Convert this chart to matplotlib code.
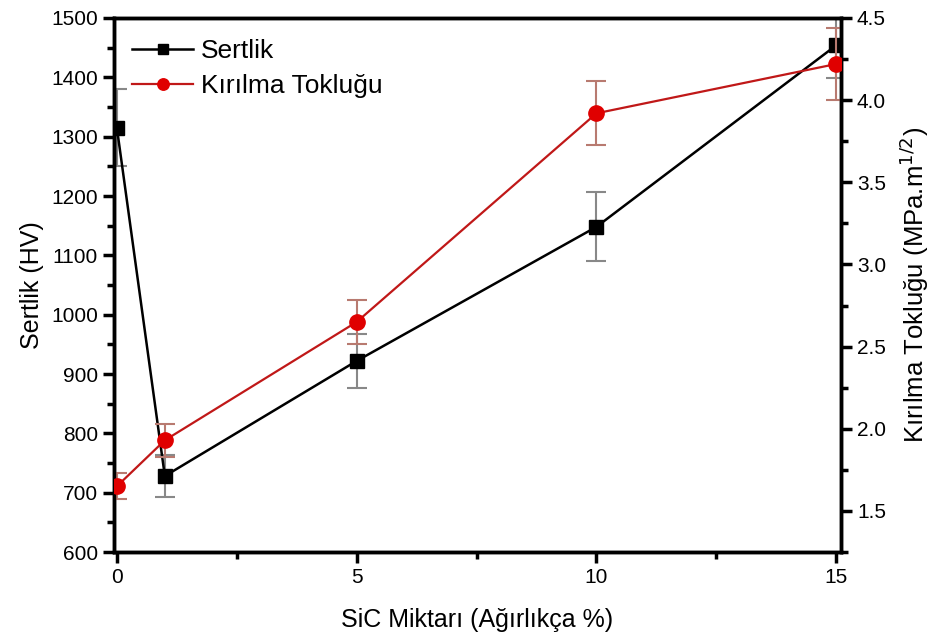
import matplotlib
matplotlib.use("Agg")
import matplotlib.pyplot as plt
from matplotlib.ticker import MultipleLocator

plt.rcParams['font.family'] = ['Liberation Sans', 'DejaVu Sans']

sic = [0, 1, 5, 10, 15]
sertlik = [1315, 728, 922, 1148, 1454]
sertlik_err = [65, 35, 46, 58, 55]
tokluk = [1.65, 1.93, 2.65, 3.92, 4.22]
tokluk_err = [0.08, 0.10, 0.135, 0.195, 0.22]

fig = plt.figure(figsize=(9.3, 6.4), dpi=100)
ax = fig.add_axes([114/930, 88/640, 727/930, 534/640])
ax2 = ax.twinx()

red = '#e00000'
ax.errorbar(sic, sertlik, yerr=sertlik_err, fmt='none', ecolor='#888888',
            elinewidth=1.5, capsize=7, capthick=1.5, zorder=2)
l1, = ax.plot(sic, sertlik, color='black', lw=1.8, marker='s', ms=10,
              mfc='black', mec='black', label='Sertlik', zorder=3)
ax2.errorbar(sic, tokluk, yerr=tokluk_err, fmt='none', ecolor='#b87a70',
             elinewidth=1.5, capsize=7, capthick=1.5, zorder=2)
l2, = ax2.plot(sic, tokluk, color='#c01818', lw=1.6, marker='o', ms=11,
               mfc=red, mec=red, label='Kırılma Tokluğu', zorder=3)

ax.set_xlim(-0.06, 15.1)
ax.set_ylim(600, 1500)
ax2.set_ylim(1.25, 4.5)

ax.xaxis.set_major_locator(MultipleLocator(5))
ax.xaxis.set_minor_locator(MultipleLocator(2.5))
ax.yaxis.set_major_locator(MultipleLocator(100))
ax.yaxis.set_minor_locator(MultipleLocator(50))
ax2.yaxis.set_major_locator(MultipleLocator(0.5))
ax2.yaxis.set_minor_locator(MultipleLocator(0.25))
ax2.set_yticks([1.5, 2.0, 2.5, 3.0, 3.5, 4.0, 4.5])

for a in (ax, ax2):
    for s in a.spines.values():
        s.set_linewidth(2.5)
ax.tick_params(axis='both', which='major', length=8, width=2.5, labelsize=15, direction='out')
ax.tick_params(axis='both', which='minor', length=5, width=2.5, direction='out')
ax2.tick_params(axis='y', which='major', length=8, width=2.5, labelsize=15, direction='out')
ax2.tick_params(axis='y', which='minor', length=5, width=2.5, direction='out')

ax.set_xlabel('SiC Miktarı (Ağırlıkça %)', fontsize=18, labelpad=15)
ax.set_ylabel('Sertlik (HV)', fontsize=18, labelpad=5)
ax2.set_ylabel('Kırılma Tokluğu (MPa.m$^{1/2}$)', fontsize=18.5, labelpad=8)

ax.legend([l1, l2], ['Sertlik', 'Kırılma Tokluğu'], loc='upper left', frameon=False,
          fontsize=19, handlelength=2.3, handletextpad=0.3, borderaxespad=0.3,
          labelspacing=0.42, markerscale=0.75, bbox_to_anchor=(0.0, 0.995))

fig.savefig('out.png', dpi=100)
